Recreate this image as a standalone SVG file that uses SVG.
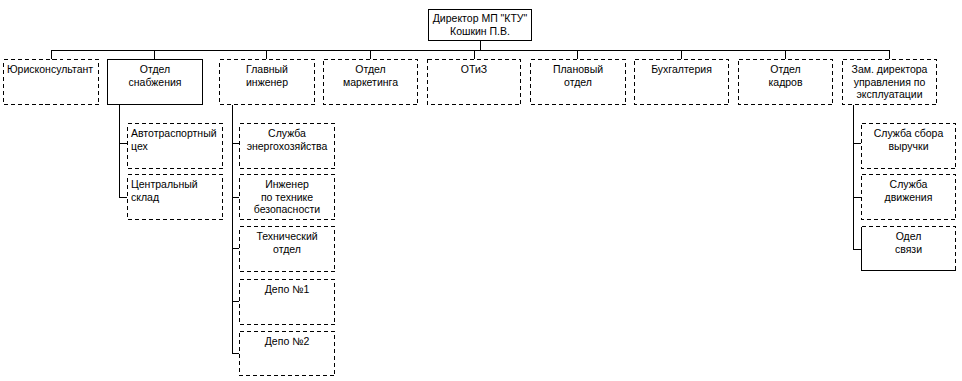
<svg xmlns="http://www.w3.org/2000/svg" width="962" height="381" viewBox="0 0 962 381">
<style>
rect, path, line { shape-rendering: crispEdges; }
.solid { fill: #fff; stroke: #000; stroke-width: 1; }
.dash { fill: #fff; stroke: #000; stroke-width: 1; stroke-dasharray: 4 3; }
.conn { fill: none; stroke: #000; stroke-width: 1; }
text { font-family: "Liberation Sans", Arial, sans-serif; font-size: 10.5px; fill: #000; }
.c { text-anchor: middle; }
</style>
<rect width="962" height="381" fill="#fff"/>
<g id="connectors">
  <path class="conn" d="M480.5 41 V50.5 M51.5 50.5 H889.5 M51.5 50 V59 M154.5 50 V59 M266.5 50 V59 M370.5 50 V59 M474.5 50 V59 M577.5 50 V59 M681.5 50 V59 M785.5 50 V59 M889.5 50 V59"/>
  <path class="conn" d="M119.5 105 V197.5 H127 M119.5 143.5 H127"/>
  <path class="conn" d="M232.5 105 V353.5 H239 M232.5 143.5 H239 M232.5 197.5 H239 M232.5 248.5 H239 M232.5 301.5 H239"/>
  <path class="conn" d="M853.5 105 V249.5 H861 M853.5 143.5 H861 M853.5 197.5 H861"/>
</g>
<g id="director">
  <rect class="solid" x="428.5" y="9.5" width="103" height="31"/>
  <text class="c" x="480" y="22">Директор МП "КТУ"</text>
  <text class="c" x="480" y="35">Кошкин П.В.</text>
</g>
<g id="jurist">
  <rect class="dash" x="3.5" y="59.5" width="95" height="45"/>
  <text x="7" y="73">Юрисконсультант</text>
</g>
<g id="snab">
  <rect class="solid" x="107.5" y="59.5" width="95" height="45"/>
  <text class="c" x="155" y="73">Отдел</text>
  <text class="c" x="155" y="85.5">снабжения</text>
</g>
<g id="glavinzh">
  <rect class="dash" x="219.5" y="59.5" width="95" height="45"/>
  <text class="c" x="267" y="73">Главный</text>
  <text class="c" x="267" y="85.5">инженер</text>
</g>
<g id="marketing">
  <rect class="dash" x="323.5" y="59.5" width="94" height="45"/>
  <text class="c" x="370.5" y="73">Отдел</text>
  <text class="c" x="370.5" y="85.5">маркетинга</text>
</g>
<g id="otiz">
  <rect class="dash" x="427.5" y="59.5" width="93" height="45"/>
  <text class="c" x="474" y="73">ОТиЗ</text>
</g>
<g id="plan">
  <rect class="dash" x="530.5" y="59.5" width="95" height="45"/>
  <text class="c" x="578" y="73">Плановый</text>
  <text class="c" x="578" y="85.5">отдел</text>
</g>
<g id="buh">
  <rect class="dash" x="634.5" y="59.5" width="94" height="45"/>
  <text class="c" x="681.5" y="73">Бухгалтерия</text>
</g>
<g id="kadry">
  <rect class="dash" x="738.5" y="59.5" width="94" height="45"/>
  <text class="c" x="785.5" y="73">Отдел</text>
  <text class="c" x="785.5" y="85.5">кадров</text>
</g>
<g id="zam">
  <rect class="dash" x="842.5" y="59.5" width="94" height="45"/>
  <text class="c" x="889.5" y="73">Зам. директора</text>
  <text class="c" x="889.5" y="85.5">управления по</text>
  <text class="c" x="889.5" y="98">эксплуатации</text>
</g>
<g id="avto">
  <rect class="dash" x="127.5" y="123.5" width="95" height="45"/>
  <text x="131" y="137">Автотраспортный</text>
  <text x="131" y="149.5">цех</text>
</g>
<g id="sklad">
  <rect class="dash" x="127.5" y="174.5" width="95" height="45"/>
  <text x="131" y="188">Центральный</text>
  <text x="131" y="200.5">склад</text>
</g>
<g id="energo">
  <rect class="dash" x="239.5" y="123.5" width="95" height="45"/>
  <text class="c" x="287" y="137">Служба</text>
  <text class="c" x="287" y="149.5">энергохозяйства</text>
</g>
<g id="tb">
  <rect class="dash" x="239.5" y="174.5" width="95" height="45"/>
  <text class="c" x="287" y="188">Инженер</text>
  <text class="c" x="287" y="200.5">по технике</text>
  <text class="c" x="287" y="213">безопасности</text>
</g>
<g id="tech">
  <rect class="dash" x="239.5" y="226.5" width="95" height="45"/>
  <text class="c" x="287" y="240">Технический</text>
  <text class="c" x="287" y="252.5">отдел</text>
</g>
<g id="depo1">
  <rect class="dash" x="239.5" y="279.5" width="95" height="45"/>
  <text class="c" x="287" y="293">Депо №1</text>
</g>
<g id="depo2">
  <rect class="dash" x="239.5" y="331.5" width="95" height="44"/>
  <text class="c" x="287" y="345">Депо №2</text>
</g>
<g id="sbor">
  <rect class="dash" x="861.5" y="123.5" width="94" height="45"/>
  <text class="c" x="908.5" y="137">Служба сбора</text>
  <text class="c" x="908.5" y="149.5">выручки</text>
</g>
<g id="dvizh">
  <rect class="dash" x="861.5" y="174.5" width="94" height="45"/>
  <text class="c" x="908.5" y="188">Служба</text>
  <text class="c" x="908.5" y="200.5">движения</text>
</g>
<g id="svyaz">
  <rect x="861.5" y="226.5" width="94" height="44" fill="#fff"/>
  <path class="conn" d="M861.5 226.5 H955.5 V270.5" stroke-dasharray="4 3"/>
  <path class="conn" d="M861.5 226.5 V270.5 H955.5"/>
  <text class="c" x="908.5" y="240">Одел</text>
  <text class="c" x="908.5" y="252.5">связи</text>
</g>
</svg>
